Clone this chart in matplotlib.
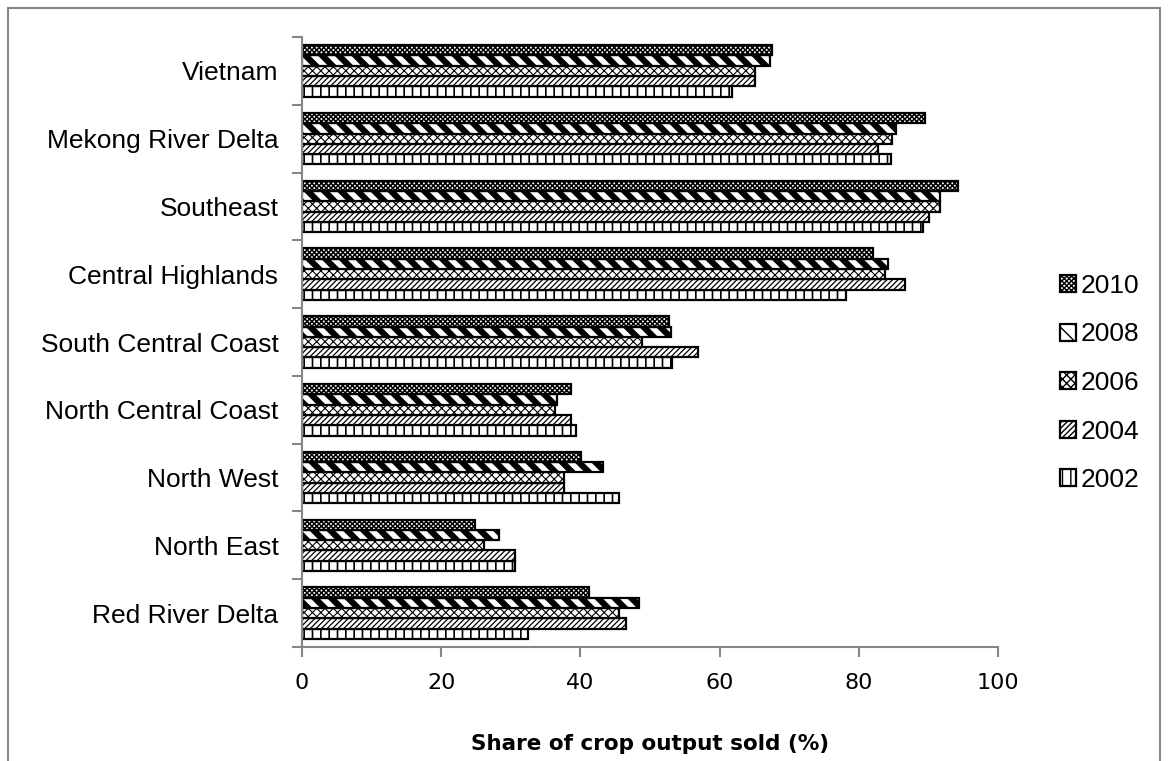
import numpy as np
import matplotlib
matplotlib.use("Agg")
import matplotlib.pyplot as plt
from matplotlib.patches import Rectangle

regions = ["Red River Delta", "North East", "North West", "North Central Coast",
           "South Central Coast", "Central Highlands", "Southeast",
           "Mekong River Delta", "Vietnam"]
years = ["2002", "2004", "2006", "2008", "2010"]

# share of crop output sold (%), one list per survey year, same order as regions
share_2002 = [32.5, 30.6, 45.5, 39.3, 53.2, 78.1, 89.2, 84.6, 61.8]
share_2004 = [46.5, 30.6, 37.6, 38.6, 56.9, 86.6, 90.1, 82.7, 65.1]
share_2006 = [45.5, 26.1, 37.6, 36.4, 48.8, 83.8, 91.6, 84.8, 65.1]
share_2008 = [48.4, 28.3, 43.2, 36.7, 53.0, 84.2, 91.7, 85.3, 67.2]
share_2010 = [41.3, 24.8, 40.1, 38.6, 52.7, 82.0, 94.2, 89.5, 67.5]

series = [share_2002, share_2004, share_2006, share_2008, share_2010]
hatches = ["||", "//////", "xxxx", "\\\\", "xxxxxxx"]
hatch_lw = [1.2, 0.9, 0.8, 4.5, 1.1]

grey = "#868686"

fig = plt.figure(figsize=(11.68, 7.61), dpi=100)
ax = fig.add_axes([302 / 1168, 1 - 647 / 761, 696 / 1168, 610 / 761])

# outer chart border
fig.add_artist(Rectangle((8 / 1168, -0.02), 1152 / 1168, 1 - 8 / 761 + 0.02,
                         transform=fig.transFigure, fill=False,
                         edgecolor=grey, linewidth=1.5))

y = np.arange(len(regions))
h = 0.152
for i, vals in enumerate(series):
    with plt.rc_context({"hatch.linewidth": hatch_lw[i]}):
        bars = ax.barh(y + (i - 2) * h, vals, height=h, color="white",
                       edgecolor="black", linewidth=1.6, hatch=hatches[i],
                       label=years[i])
    for b in bars:
        if hasattr(b, "set_hatch_linewidth"):
            b.set_hatch_linewidth(hatch_lw[i])

ax.set_xlim(0, 100)
ax.set_ylim(-0.5, len(regions) - 0.5)
ax.set_xticks(np.arange(0, 101, 20))
ax.set_yticks(np.arange(-0.5, len(regions), 1.0))
ax.set_yticklabels([])
ax.set_yticks(y, minor=True)
ax.set_yticklabels(regions, minor=True, fontsize=19, family="Liberation Sans")
ax.tick_params(axis="y", which="minor", length=0, pad=17)
ax.tick_params(axis="y", which="major", length=7, width=1.5, color=grey)
ax.tick_params(axis="x", length=7, width=1.5, color=grey, labelsize=16, pad=12)

for s in ["top", "right"]:
    ax.spines[s].set_visible(False)
for s in ["left", "bottom"]:
    ax.spines[s].set_color(grey)
    ax.spines[s].set_linewidth(1.5)

ax.set_xlabel("Share of crop output sold (%)", fontsize=15.5, fontweight="bold",
              labelpad=29)

handles, labels = ax.get_legend_handles_labels()
fig.legend(handles[::-1], labels[::-1], loc="center left",
           bbox_to_anchor=(1036 / 1168, 1 - 383 / 761), frameon=False,
           prop={"family": "Liberation Sans", "size": 19},
           handlelength=0.6, handleheight=0.6, handletextpad=0.2,
           labelspacing=0.93)

fig.savefig("out.png", dpi=100)
